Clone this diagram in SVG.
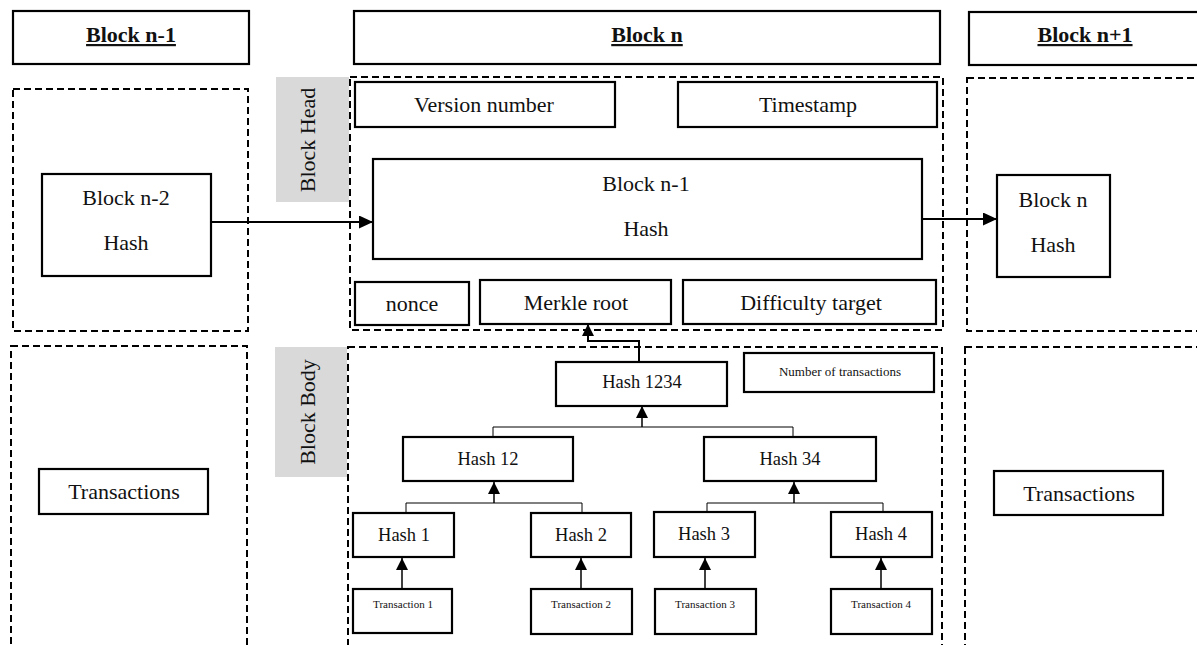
<svg xmlns="http://www.w3.org/2000/svg" width="1197" height="645" viewBox="0 0 1197 645">
<style>
text{font-family:"Liberation Serif","Times New Roman",serif;fill:#111;text-anchor:middle}
.hdr{font-size:22px;font-weight:bold;text-decoration:underline}
.box{fill:#fff;stroke:#000;stroke-width:2.2}
.dash{fill:none;stroke:#000;stroke-width:2;stroke-dasharray:7 4}
.gray{fill:#d9d9d9}
.t22{font-size:22px}
.t19{font-size:18.5px}
.t13{font-size:13px}
.t11{font-size:11px}
.ln{fill:none;stroke:#000;stroke-width:1.5}
.thin{fill:none;stroke:#000;stroke-width:1}
</style>
<defs>
<marker id="ah" viewBox="0 0 12 12" refX="12" refY="6" markerWidth="12" markerHeight="12" markerUnits="userSpaceOnUse" orient="auto">
<path d="M0,0 L12,6 L0,12 Z" fill="#000"/>
</marker>
<marker id="ahb" viewBox="0 0 14 13" refX="14" refY="6.5" markerWidth="14" markerHeight="13" markerUnits="userSpaceOnUse" orient="auto">
<path d="M0,0 L14,6.5 L0,13 Z" fill="#000"/>
</marker>
</defs>
<rect width="1197" height="645" fill="#fff"/>

<g id="headers">
<g id="hdr-n-1"><rect class="box" x="13" y="11" width="236" height="53"/><text class="hdr" x="131" y="42">Block n-1</text></g>
<g id="hdr-n"><rect class="box" x="354" y="11" width="586" height="53"/><text class="hdr" x="647" y="42">Block n</text></g>
<g id="hdr-n1"><rect class="box" x="969" y="12" width="240" height="53"/><text class="hdr" x="1085" y="42">Block n+1</text></g>
</g>

<g id="regions">
<rect class="dash" x="13" y="89" width="235" height="242"/>
<rect class="dash" x="11" y="346" width="236" height="320"/>
<rect class="dash" x="350" y="77" width="593" height="253"/>
<rect class="dash" x="348" y="347" width="594" height="320"/>
<rect class="dash" x="967" y="78" width="250" height="253"/>
<rect class="dash" x="965" y="347" width="250" height="320"/>
</g>

<g id="label-head"><rect class="gray" x="276" y="77" width="73" height="125"/><text class="t22" transform="translate(315,140) rotate(-90)">Block Head</text></g>
<g id="label-body"><rect class="gray" x="275" y="347" width="72" height="130"/><text class="t22" transform="translate(315,412) rotate(-90)">Block Body</text></g>

<g id="connectors">
<line class="ln" x1="211" y1="222" x2="373" y2="222" style="stroke-width:2" marker-end="url(#ahb)"/>
<line class="ln" x1="922" y1="219" x2="997" y2="219" style="stroke-width:2" marker-end="url(#ahb)"/>
<polyline class="ln" points="639,362 639,341 588,341 588,324" style="stroke-width:2" marker-end="url(#ah)"/>
<polyline class="thin" points="493,437 493,427 793,427 793,437"/>
<line class="ln" x1="642" y1="427" x2="642" y2="406" marker-end="url(#ah)"/>
<polyline class="thin" points="406,513 406,503 582,503 582,513"/>
<line class="ln" x1="494" y1="503" x2="494" y2="482" marker-end="url(#ah)"/>
<polyline class="thin" points="707,512 707,503 883,503 883,512"/>
<line class="ln" x1="794" y1="503" x2="794" y2="482" marker-end="url(#ah)"/>
<line class="ln" x1="402" y1="589" x2="402" y2="558" marker-end="url(#ah)"/>
<line class="ln" x1="581" y1="589" x2="581" y2="558" marker-end="url(#ah)"/>
<line class="ln" x1="705" y1="589" x2="705" y2="558" marker-end="url(#ah)"/>
<line class="ln" x1="881" y1="589" x2="881" y2="558" marker-end="url(#ah)"/>
</g>

<g id="n2hash"><rect class="box" x="42" y="174" width="169" height="102"/><text class="t22" x="126" y="205">Block n-2</text><text class="t22" x="126" y="250">Hash</text></g>
<g id="tx-left"><rect class="box" x="39" y="469" width="169" height="45"/><text class="t22" x="124" y="499">Transactions</text></g>

<g id="version"><rect class="box" x="355" y="82" width="260" height="45"/><text class="t22" x="484" y="112">Version number</text></g>
<g id="timestamp"><rect class="box" x="678" y="82" width="259" height="45"/><text class="t22" x="808" y="112">Timestamp</text></g>
<g id="prevhash"><rect class="box" x="373" y="159" width="549" height="100"/><text class="t22" x="646" y="191">Block n-1</text><text class="t22" x="646" y="236">Hash</text></g>
<g id="nonce"><rect class="box" x="355" y="282" width="114" height="43"/><text class="t22" x="412" y="311">nonce</text></g>
<g id="merkle"><rect class="box" x="480" y="280" width="191" height="44"/><text class="t22" x="576" y="310">Merkle root</text></g>
<g id="difficulty"><rect class="box" x="683" y="280" width="253" height="44"/><text class="t22" x="811" y="310">Difficulty target</text></g>

<g id="hash1234"><rect class="box" x="556" y="362" width="171" height="44"/><text class="t19" x="642" y="388">Hash 1234</text></g>
<g id="ntx"><rect class="box" x="744" y="353" width="190" height="39"/><text class="t13" x="840" y="376">Number of transactions</text></g>
<g id="hash12"><rect class="box" x="403" y="437" width="170" height="44"/><text class="t19" x="488" y="465">Hash 12</text></g>
<g id="hash34"><rect class="box" x="704" y="437" width="172" height="44"/><text class="t19" x="790" y="465">Hash 34</text></g>
<g id="hash1"><rect class="box" x="353" y="513" width="101" height="44"/><text class="t19" x="404" y="541">Hash 1</text></g>
<g id="hash2"><rect class="box" x="531" y="513" width="100" height="44"/><text class="t19" x="581" y="541">Hash 2</text></g>
<g id="hash3"><rect class="box" x="654" y="512" width="101" height="45"/><text class="t19" x="704" y="540">Hash 3</text></g>
<g id="hash4"><rect class="box" x="831" y="512" width="101" height="45"/><text class="t19" x="881" y="540">Hash 4</text></g>
<g id="tx1"><rect class="box" x="353" y="589" width="99" height="44"/><text class="t11" x="403" y="608">Transaction 1</text></g>
<g id="tx2"><rect class="box" x="531" y="589" width="101" height="45"/><text class="t11" x="581" y="608">Transaction 2</text></g>
<g id="tx3"><rect class="box" x="655" y="589" width="101" height="45"/><text class="t11" x="705" y="608">Transaction 3</text></g>
<g id="tx4"><rect class="box" x="831" y="589" width="101" height="45"/><text class="t11" x="881" y="608">Transaction 4</text></g>

<g id="nhash"><rect class="box" x="997" y="175" width="113" height="102"/><text class="t22" x="1053" y="207">Block n</text><text class="t22" x="1053" y="252">Hash</text></g>
<g id="tx-right"><rect class="box" x="994" y="471" width="169" height="44"/><text class="t22" x="1079" y="501">Transactions</text></g>
</svg>
